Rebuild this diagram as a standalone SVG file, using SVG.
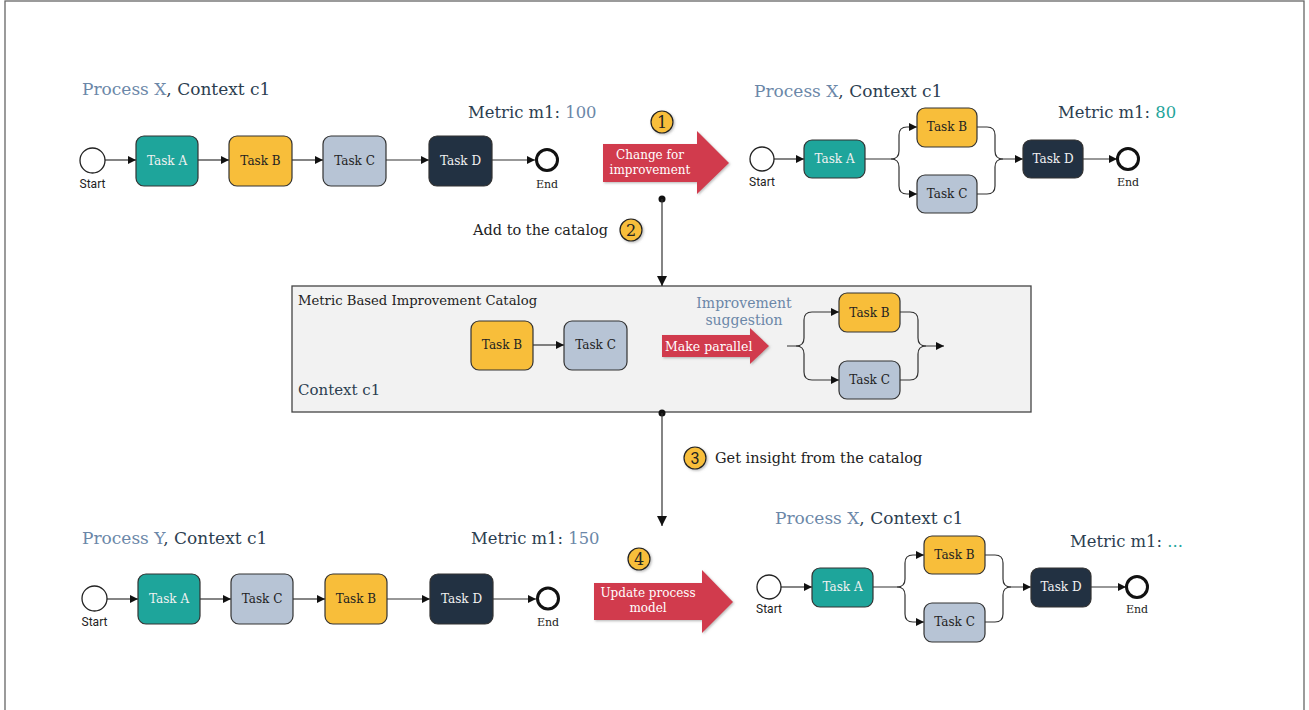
<svg xmlns="http://www.w3.org/2000/svg" width="1309" height="710" viewBox="0 0 1309 710">
  <defs>
    <marker id="arr" markerWidth="9" markerHeight="9" refX="8" refY="4" orient="auto" markerUnits="userSpaceOnUse">
      <path d="M0,0 L8,4 L0,8 z" fill="#111"/>
    </marker>
    <marker id="arrBig" markerWidth="12" markerHeight="12" refX="10" refY="5" orient="auto" markerUnits="userSpaceOnUse">
      <path d="M0,0 L10,5 L0,10 z" fill="#111"/>
    </marker>
    <filter id="shadow" x="-30%" y="-30%" width="160%" height="160%">
      <feDropShadow dx="1.2" dy="1.2" stdDeviation="1" flood-color="#777" flood-opacity="0.5"/>
    </filter>
  </defs>
  <style>
    .t { font-family: "DejaVu Serif", "Liberation Serif", serif; }
    .sans { font-family: Roboto, "Liberation Sans", sans-serif; }
    .title { font-size: 17px; fill: #2c3e50; }
    .metric { font-size: 16.4px; fill: #2c3e50; }
    .slate { fill: #6b87a8; }
    .teal { fill: #1fa59b; }
    .task { stroke: #333; stroke-width: 1.2; }
    .ta { fill: #1ea59b; }
    .tb { fill: #f8be3a; }
    .tc { fill: #b7c4d5; }
    .td { fill: #223142; }
    .lbl { font-size: 12px; text-anchor: middle; fill: #222; }
    .lblw { font-size: 12px; text-anchor: middle; fill: #f2f2f2; }
    .small { font-size: 11px; text-anchor: middle; fill: #222; }
    .startlbl { font-size: 12px; text-anchor: middle; fill: #222; }
    .startc { fill: #fff; stroke: #222; stroke-width: 1.3; }
    .endc { fill: #fff; stroke: #111; stroke-width: 3; }
    .line { fill: none; stroke: #333; stroke-width: 1.2; }
    .red { fill: #d13b4d; filter: url(#shadow); }
    .redtxt { font-size: 12px; fill: #fff; text-anchor: middle; }
    .badge { fill: #f8be3a; stroke: #222; stroke-width: 1.2; filter: url(#shadow); }
    .badgetxt { font-size: 16px; text-anchor: middle; fill: #222; }
    .note { font-size: 14.5px; fill: #222; }
  </style>

  <!-- frame -->
  <rect x="5" y="1" width="1299" height="730" fill="#fff" stroke="#666" stroke-width="1.3"/>

  <!-- catalog container -->
  <g id="catalog">
    <rect x="292" y="286" width="739" height="126" fill="#f2f2f2" stroke="#444" stroke-width="1.3"/>
    <text class="t" x="298" y="305" font-size="13.2" fill="#222">Metric Based Improvement Catalog</text>
    <text class="t" x="298" y="395" font-size="15" fill="#2c3e50">Context c1</text>
  </g>

  <!-- connectors -->
  <g id="connectors">
    <!-- top-left process -->
    <line class="line" x1="105" y1="160" x2="136" y2="160" marker-end="url(#arr)"/>
    <line class="line" x1="198" y1="160" x2="229" y2="160" marker-end="url(#arr)"/>
    <line class="line" x1="292" y1="160" x2="323" y2="160" marker-end="url(#arr)"/>
    <line class="line" x1="386" y1="160" x2="429" y2="160" marker-end="url(#arr)"/>
    <line class="line" x1="492" y1="160" x2="535" y2="160" marker-end="url(#arr)"/>

    <!-- top-right process -->
    <line class="line" x1="774" y1="159" x2="804" y2="159" marker-end="url(#arr)"/>
    <path class="line" d="M865,159 H891 Q899,159 899,151 V135 Q899,127 907,127 H917" marker-end="url(#arr)"/>
    <path class="line" d="M891,159 Q899,159 899,167 V186 Q899,194 907,194 H917" marker-end="url(#arr)"/>
    <path class="line" d="M977,127 H987 Q995,127 995,135 V151 Q995,159 1003,159 H1023" marker-end="url(#arr)"/>
    <path class="line" d="M977,194 H987 Q995,194 995,186 V167 Q995,159 1003,159"/>
    <line class="line" x1="1083" y1="159" x2="1117" y2="159" marker-end="url(#arr)"/>

    <!-- catalog content -->
    <line class="line" x1="533" y1="345" x2="564" y2="345" marker-end="url(#arr)"/>
    <path class="line" d="M787,346 H796 Q804,346 804,338 V320 Q804,312 812,312 H839" marker-end="url(#arr)"/>
    <path class="line" d="M796,346 Q804,346 804,354 V372 Q804,380 812,380 H839" marker-end="url(#arr)"/>
    <path class="line" d="M900,312 H910 Q918,312 918,320 V338 Q918,346 926,346 H944" marker-end="url(#arr)"/>
    <path class="line" d="M900,380 H910 Q918,380 918,372 V354 Q918,346 926,346"/>

    <!-- flow into and out of the catalog -->
    <circle cx="662" cy="199" r="3.5" fill="#111"/>
    <line class="line" x1="662" y1="199" x2="662" y2="286" marker-end="url(#arrBig)"/>
    <circle cx="662" cy="413" r="3.5" fill="#111"/>
    <line class="line" x1="662" y1="413" x2="662" y2="526" marker-end="url(#arrBig)"/>

    <!-- bottom-left process -->
    <line class="line" x1="107" y1="599" x2="138" y2="599" marker-end="url(#arr)"/>
    <line class="line" x1="200" y1="599" x2="231" y2="599" marker-end="url(#arr)"/>
    <line class="line" x1="293" y1="599" x2="325" y2="599" marker-end="url(#arr)"/>
    <line class="line" x1="387" y1="599" x2="430" y2="599" marker-end="url(#arr)"/>
    <line class="line" x1="493" y1="599" x2="536" y2="599" marker-end="url(#arr)"/>

    <!-- bottom-right process -->
    <line class="line" x1="781" y1="587" x2="812" y2="587" marker-end="url(#arr)"/>
    <path class="line" d="M873,587 H897 Q905,587 905,579 V563 Q905,555 913,555 H924" marker-end="url(#arr)"/>
    <path class="line" d="M897,587 Q905,587 905,595 V614 Q905,622 913,622 H924" marker-end="url(#arr)"/>
    <path class="line" d="M985,555 H995 Q1003,555 1003,563 V579 Q1003,587 1011,587 H1031" marker-end="url(#arr)"/>
    <path class="line" d="M985,622 H995 Q1003,622 1003,614 V595 Q1003,587 1011,587"/>
    <line class="line" x1="1091" y1="587" x2="1126" y2="587" marker-end="url(#arr)"/>
  </g>

  <!-- ===== Process X (before) ===== -->
  <g id="title-x-before">
    <text class="t title" x="82" y="95"><tspan class="slate">Process X</tspan>, Context c1</text>
    <text class="t metric" x="468" y="118">Metric m1: <tspan class="slate">100</tspan></text>
  </g>
  <g id="x1-start">
    <circle class="startc" cx="92.5" cy="160.5" r="12.5"/>
    <text class="sans startlbl" x="92.5" y="188">Start</text>
  </g>
  <g id="x1-task-a">
    <rect class="task ta" x="136" y="136" width="62" height="50" rx="8"/>
    <text class="t lblw" x="167" y="165">Task A</text>
  </g>
  <g id="x1-task-b">
    <rect class="task tb" x="229" y="136" width="63" height="50" rx="8"/>
    <text class="t lbl" x="260.5" y="165">Task B</text>
  </g>
  <g id="x1-task-c">
    <rect class="task tc" x="323" y="136" width="63" height="50" rx="8"/>
    <text class="t lbl" x="354.5" y="165">Task C</text>
  </g>
  <g id="x1-task-d">
    <rect class="task td" x="429" y="136" width="63" height="50" rx="8"/>
    <text class="t lblw" x="460.5" y="165">Task D</text>
  </g>
  <g id="x1-end">
    <circle class="endc" cx="547" cy="160" r="10.5"/>
    <text class="t small" x="547" y="188">End</text>
  </g>

  <!-- step 1 -->
  <g id="step-1">
    <polygon class="red" points="603,144 697,144 697,131 729,163 697,194 697,182 603,182"/>
    <text class="t redtxt" x="650" y="159">Change for</text>
    <text class="t redtxt" x="650" y="174">improvement</text>
    <circle class="badge" cx="662" cy="122" r="11"/>
    <text class="t badgetxt" x="662" y="128">1</text>
  </g>

  <!-- ===== Process X (after) ===== -->
  <g id="title-x-after">
    <text class="t title" x="754" y="97"><tspan class="slate">Process X</tspan>, Context c1</text>
    <text class="t metric" x="1058" y="118">Metric m1: <tspan class="teal">80</tspan></text>
  </g>
  <g id="x2-start">
    <circle class="startc" cx="762" cy="159" r="12"/>
    <text class="sans startlbl" x="762" y="186">Start</text>
  </g>
  <g id="x2-task-a">
    <rect class="task ta" x="804" y="140" width="61" height="38" rx="8"/>
    <text class="t lblw" x="834.5" y="163">Task A</text>
  </g>
  <g id="x2-task-b">
    <rect class="task tb" x="917" y="108" width="60" height="39" rx="8"/>
    <text class="t lbl" x="947" y="131">Task B</text>
  </g>
  <g id="x2-task-c">
    <rect class="task tc" x="917" y="175" width="60" height="38" rx="8"/>
    <text class="t lbl" x="947" y="198">Task C</text>
  </g>
  <g id="x2-task-d">
    <rect class="task td" x="1023" y="140" width="60" height="38" rx="8"/>
    <text class="t lblw" x="1053" y="163">Task D</text>
  </g>
  <g id="x2-end">
    <circle class="endc" cx="1128" cy="159" r="10.5"/>
    <text class="t small" x="1128" y="186">End</text>
  </g>

  <!-- step 2 -->
  <g id="step-2">
    <text class="t note" x="473" y="235">Add to the catalog</text>
    <circle class="badge" cx="631" cy="230" r="11"/>
    <text class="t badgetxt" x="631" y="236">2</text>
  </g>

  <!-- catalog entries -->
  <g id="cat-task-b">
    <rect class="task tb" x="471" y="321" width="62" height="49" rx="8"/>
    <text class="t lbl" x="502" y="349">Task B</text>
  </g>
  <g id="cat-task-c">
    <rect class="task tc" x="564" y="321" width="63" height="49" rx="8"/>
    <text class="t lbl" x="595.5" y="349">Task C</text>
  </g>
  <g id="cat-suggestion">
    <text class="t" x="744" y="308" font-size="14" fill="#6b87a8" text-anchor="middle">Improvement</text>
    <text class="t" x="744" y="325" font-size="14" fill="#6b87a8" text-anchor="middle">suggestion</text>
    <polygon class="red" points="662,335 750,335 750,328 769,346 750,364 750,357 662,357"/>
    <text class="t" x="665" y="351" font-size="12.5" fill="#fff">Make parallel</text>
  </g>
  <g id="cat-par-b">
    <rect class="task tb" x="839" y="293" width="61" height="39" rx="8"/>
    <text class="t lbl" x="869.5" y="317">Task B</text>
  </g>
  <g id="cat-par-c">
    <rect class="task tc" x="839" y="361" width="61" height="38" rx="8"/>
    <text class="t lbl" x="869.5" y="384">Task C</text>
  </g>

  <!-- step 3 -->
  <g id="step-3">
    <circle class="badge" cx="695" cy="458" r="11"/>
    <text class="sans badgetxt" x="695" y="464">3</text>
    <text class="t note" x="715" y="463">Get insight from the catalog</text>
  </g>

  <!-- ===== Process Y ===== -->
  <g id="title-y">
    <text class="t title" x="82" y="544"><tspan class="slate">Process Y</tspan>, Context c1</text>
    <text class="t metric" x="471" y="544">Metric m1: <tspan class="slate">150</tspan></text>
  </g>
  <g id="y-start">
    <circle class="startc" cx="94.5" cy="598.5" r="12.5"/>
    <text class="sans startlbl" x="94.5" y="626">Start</text>
  </g>
  <g id="y-task-a">
    <rect class="task ta" x="138" y="574" width="62" height="50" rx="8"/>
    <text class="t lblw" x="169" y="603">Task A</text>
  </g>
  <g id="y-task-c">
    <rect class="task tc" x="231" y="574" width="62" height="50" rx="8"/>
    <text class="t lbl" x="262" y="603">Task C</text>
  </g>
  <g id="y-task-b">
    <rect class="task tb" x="325" y="574" width="62" height="50" rx="8"/>
    <text class="t lbl" x="356" y="603">Task B</text>
  </g>
  <g id="y-task-d">
    <rect class="task td" x="430" y="574" width="63" height="50" rx="8"/>
    <text class="t lblw" x="461.5" y="603">Task D</text>
  </g>
  <g id="y-end">
    <circle class="endc" cx="548" cy="598.5" r="10.5"/>
    <text class="t small" x="548" y="626">End</text>
  </g>

  <!-- step 4 -->
  <g id="step-4">
    <polygon class="red" points="594,583 702,583 702,570 733,602 702,633 702,620 594,620"/>
    <text class="t redtxt" x="648" y="597">Update process</text>
    <text class="t redtxt" x="648" y="612">model</text>
    <circle class="badge" cx="639" cy="559" r="11"/>
    <text class="t badgetxt" x="639" y="565">4</text>
  </g>

  <!-- ===== Process X (updated) ===== -->
  <g id="title-x-updated">
    <text class="t title" x="775" y="524"><tspan class="slate">Process X</tspan>, Context c1</text>
    <text class="t metric" x="1070" y="547">Metric m1: <tspan class="teal">...</tspan></text>
  </g>
  <g id="x3-start">
    <circle class="startc" cx="769" cy="587" r="12"/>
    <text class="sans startlbl" x="769" y="613">Start</text>
  </g>
  <g id="x3-task-a">
    <rect class="task ta" x="812" y="568" width="61" height="39" rx="8"/>
    <text class="t lblw" x="842.5" y="591">Task A</text>
  </g>
  <g id="x3-task-b">
    <rect class="task tb" x="924" y="536" width="61" height="38" rx="8"/>
    <text class="t lbl" x="954.5" y="559">Task B</text>
  </g>
  <g id="x3-task-c">
    <rect class="task tc" x="924" y="603" width="61" height="39" rx="8"/>
    <text class="t lbl" x="954.5" y="626">Task C</text>
  </g>
  <g id="x3-task-d">
    <rect class="task td" x="1031" y="568" width="60" height="39" rx="8"/>
    <text class="t lblw" x="1061" y="591">Task D</text>
  </g>
  <g id="x3-end">
    <circle class="endc" cx="1137" cy="587" r="10.5"/>
    <text class="t small" x="1137" y="613">End</text>
  </g>
</svg>
